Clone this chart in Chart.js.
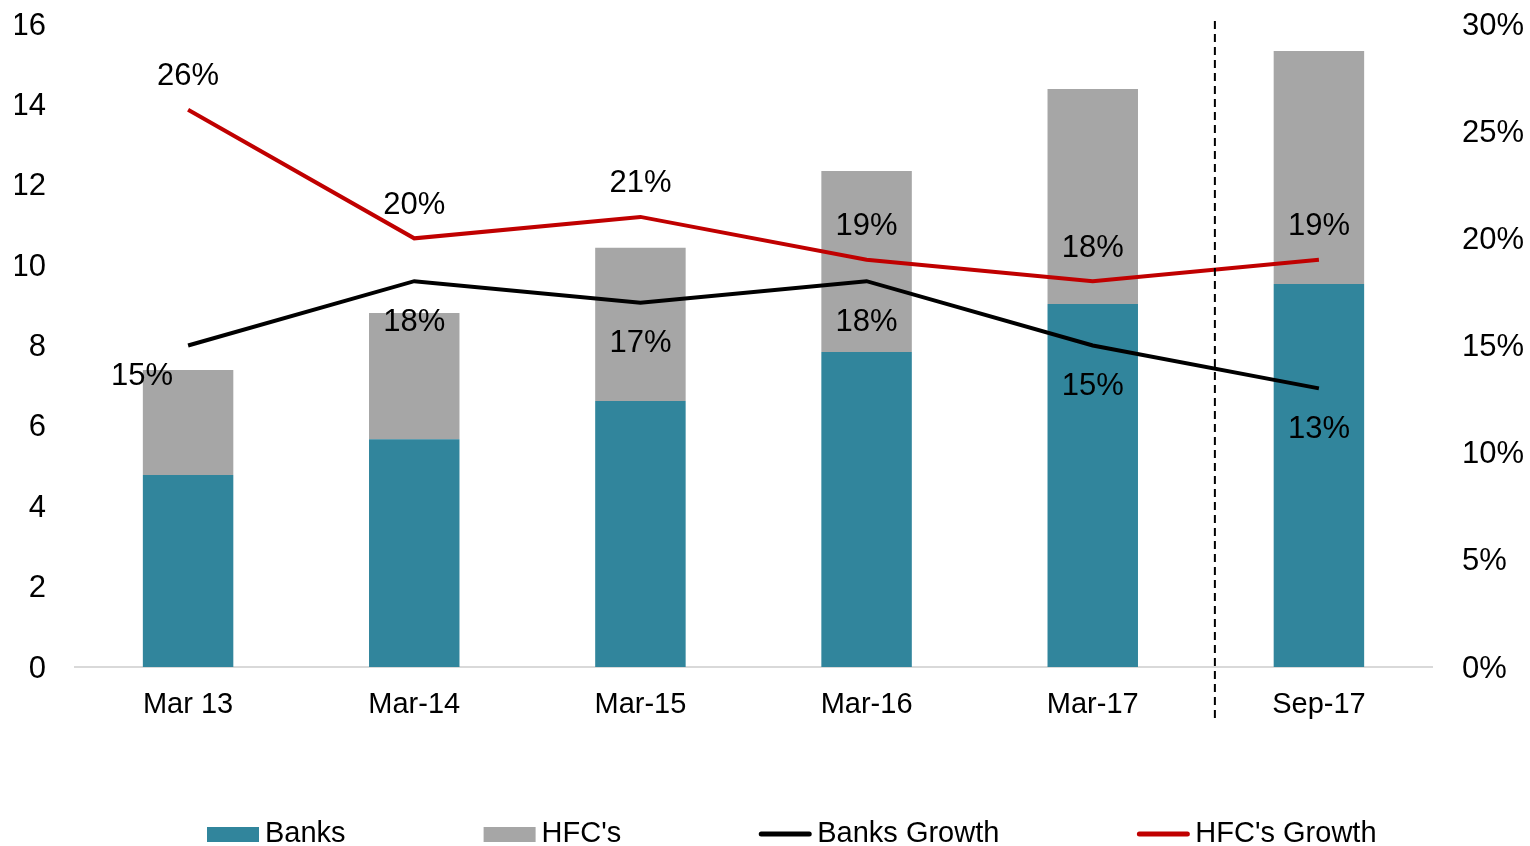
<!DOCTYPE html>
<html>
<head>
<meta charset="utf-8">
<script src="https://cdn.jsdelivr.net/npm/chart.js@4.4.1/dist/chart.umd.min.js"></script>
<style>
  html, body { margin: 0; padding: 0; background: #fff; }
  #wrap { width: 1530px; height: 846px; }
</style>
</head>
<body>
<div id="wrap"><canvas id="myChart"></canvas></div>
<script>
// data
const categories = ['Mar 13', 'Mar-14', 'Mar-15', 'Mar-16', 'Mar-17', 'Sep-17'];
const banks = [4.78, 5.67, 6.62, 7.84, 9.03, 9.53];
const hfcs = [2.61, 3.14, 3.81, 4.50, 5.35, 5.80];
const banksGrowth = [15, 18, 17, 18, 15, 13];
const hfcsGrowth = [26, 20, 21, 19, 18, 19];
const leftTicks = [0, 2, 4, 6, 8, 10, 12, 14, 16];
const rightTicks = [0, 5, 10, 15, 20, 25, 30];

const FONT = 'Liberation Sans, Arial, sans-serif';
const FSIZE = 29;   // category labels and legend
const NSIZE = 31;   // numbers: value axes and growth labels

// growth labels (above for HFC's, below for banks)
const growthLabels = {
    id: 'growthLabels',
    afterDatasetsDraw(chart) {
        const ctx = chart.ctx;
        ctx.save();
        ctx.font = NSIZE + 'px ' + FONT;
        ctx.fillStyle = '#000';
        ctx.textAlign = 'center';
        ctx.textBaseline = 'middle';
        chart.data.datasets.forEach((ds, di) => {
            if (ds.type !== 'line') return;
            const meta = chart.getDatasetMeta(di);
            meta.data.forEach((pt, i) => {
                let x = pt.x, y = pt.y;
                if (ds.labelPos === 'above') {
                    y -= 33;
                } else {
                    y += 41;
                    if (i === 0) { x -= 46; y -= 10; } // first one sits to the left
                }
                ctx.fillText(ds.data[i] + '%', x, y);
            });
        });
        ctx.restore();
    }
};

// dashed separator between Mar-17 and Sep-17
const separator = {
    id: 'separator',
    afterDraw(chart) {
        const ctx = chart.ctx;
        const x = chart.scales.x.getPixelForValue(4.54);
        ctx.save();
        ctx.strokeStyle = '#000';
        ctx.lineWidth = 2;
        ctx.setLineDash([8, 5]);
        ctx.beginPath();
        ctx.moveTo(x, chart.chartArea.top - 3);
        ctx.lineTo(x, chart.chartArea.bottom + 55);
        ctx.stroke();
        ctx.restore();
    }
};

// legend drawn by hand so the spacing matches
const bottomLegend = {
    id: 'bottomLegend',
    afterDraw(chart) {
        const ctx = chart.ctx;
        const y = 834;
        let x = 207;
        ctx.save();
        ctx.font = FSIZE + 'px ' + FONT;
        ctx.textBaseline = 'middle';
        ctx.textAlign = 'left';
        chart.data.datasets.forEach(ds => {
            if (ds.type === 'line') {
                ctx.strokeStyle = ds.borderColor;
                ctx.lineWidth = 5;
                ctx.lineCap = 'round';
                ctx.beginPath();
                ctx.moveTo(x + 2, y);
                ctx.lineTo(x + 50, y);
                ctx.stroke();
            } else {
                ctx.fillStyle = ds.backgroundColor;
                ctx.fillRect(x, y - 7, 52, 15);
            }
            x += 58;
            ctx.fillStyle = '#000';
            ctx.fillText(ds.label, x, y);
            x += ctx.measureText(ds.label).width + 138;
        });
        ctx.restore();
    }
};

// drop the automatic label overflow padding so the plot area fills like the original
function noPad(s) {
    s.paddingTop = 0; s.paddingBottom = 0; s.paddingLeft = 0; s.paddingRight = 0;
}

const ctx = document.getElementById('myChart');
let myChart = new Chart(ctx, {
    data: {
        labels: categories,
        datasets: [
            {
                type: 'bar', label: 'Banks', data: banks,
                backgroundColor: '#31859C', yAxisID: 'y', order: 2,
                barPercentage: 0.4, categoryPercentage: 1
            },
            {
                type: 'bar', label: "HFC's", data: hfcs,
                backgroundColor: '#A6A6A6', yAxisID: 'y', order: 2,
                barPercentage: 0.4, categoryPercentage: 1
            },
            {
                type: 'line', label: 'Banks Growth', data: banksGrowth,
                borderColor: '#000000', backgroundColor: '#000000', borderWidth: 4,
                pointRadius: 0, yAxisID: 'y1', order: 1, labelPos: 'below'
            },
            {
                type: 'line', label: "HFC's Growth", data: hfcsGrowth,
                borderColor: '#C00000', backgroundColor: '#C00000', borderWidth: 4,
                pointRadius: 0, yAxisID: 'y1', order: 0, labelPos: 'above'
            }
        ]
    },
    options: {
        responsive: true,
        maintainAspectRatio: false,
        animation: false,
        layout: { padding: { left: 15, right: 6, top: 24, bottom: 119 } },
        font: { family: FONT, size: FSIZE },
        plugins: {
            legend: { display: false },
            tooltip: { enabled: false }
        },
        scales: {
            x: {
                stacked: true,
                afterFit: s => { s.height = 60; noPad(s); },
                grid: { display: false, drawTicks: false },
                border: { display: true, color: '#D9D9D9', width: 2 },
                ticks: { color: '#000', padding: 21, font: { family: FONT, size: FSIZE } }
            },
            y: {
                stacked: true,
                position: 'left',
                min: leftTicks[0], max: leftTicks[leftTicks.length - 1],
                afterBuildTicks: s => { s.ticks = leftTicks.map(v => ({ value: v })); },
                afterFit: s => { s.width = 60; noPad(s); },
                grid: { display: false, drawTicks: false },
                border: { display: false },
                ticks: { color: '#000', padding: 29, labelOffset: 2, font: { family: FONT, size: NSIZE } }
            },
            y1: {
                position: 'right',
                min: rightTicks[0], max: rightTicks[rightTicks.length - 1],
                afterBuildTicks: s => { s.ticks = rightTicks.map(v => ({ value: v })); },
                afterFit: s => { s.width = 92; noPad(s); },
                grid: { display: false, drawTicks: false },
                border: { display: false },
                ticks: {
                    color: '#000', padding: 30, labelOffset: 2, font: { family: FONT, size: NSIZE },
                    callback: v => v + '%'
                }
            }
        }
    },
    plugins: [growthLabels, separator, bottomLegend]
});
</script>
</body>
</html>
